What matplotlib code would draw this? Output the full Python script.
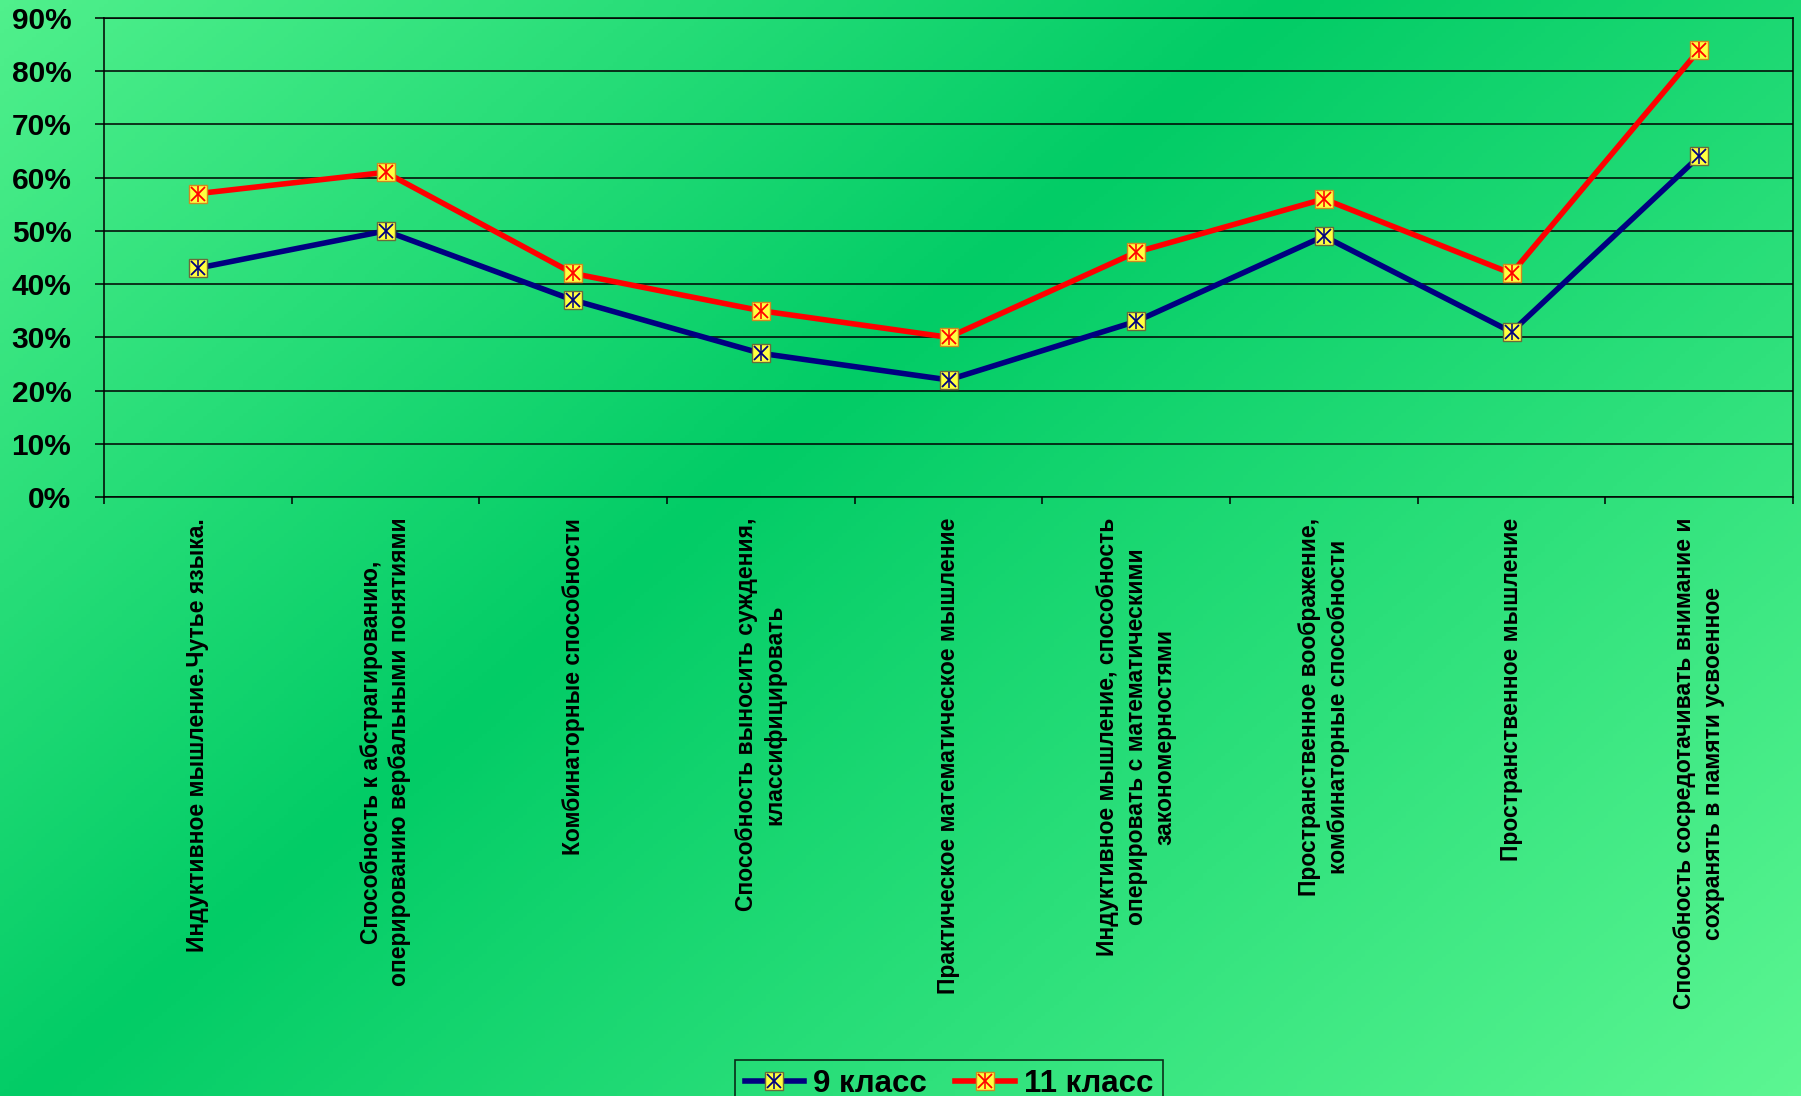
import numpy as np
import matplotlib.pyplot as plt
from matplotlib.colors import LinearSegmentedColormap
from matplotlib.lines import Line2D
from matplotlib.legend_handler import HandlerTuple

plt.rcParams["font.family"] = ["Liberation Sans", "DejaVu Sans"]
plt.rcParams["font.weight"] = "bold"

categories = [
    "Индуктивное мышление.Чутье языка.",
    "Способность к абстрагированию,\nоперированию вербальными понятиями",
    "Комбинаторные способности",
    "Способность выносить суждения,\nклассифицировать",
    "Практическое математическое мышление",
    "Индуктивное мышление, способность\nоперировать с математическими\nзакономерностями",
    "Пространственное воображение,\nкомбинаторные способности",
    "Пространственное мышление",
    "Способность сосредотачивать внимание и\nсохранять в памяти усвоенное",
]
grade9 = [0.43, 0.50, 0.37, 0.27, 0.22, 0.33, 0.49, 0.31, 0.64]
grade11 = [0.57, 0.61, 0.42, 0.35, 0.30, 0.46, 0.56, 0.42, 0.84]
series_names = ["9 класс", "11 класс"]
yticks = [0, 0.1, 0.2, 0.3, 0.4, 0.5, 0.6, 0.7, 0.8, 0.9]

fig = plt.figure(figsize=(18.01, 10.96), dpi=100)

# diagonal green gradient background (dark band from top-right to bottom-left)
bg = fig.add_axes([0, 0, 1, 1], zorder=-10)
bg_cmap = LinearSegmentedColormap.from_list(
    "bg", [(0, "#50f08c"), (0.42, "#02cc66"), (1, "#5cf692")])
gx, gy = np.meshgrid(np.linspace(0, 1, 400), np.linspace(0, 1, 300))
bg.imshow((0.83 * gx + 0.58 * gy) / 1.41, cmap=bg_cmap, aspect="auto",
          extent=(0, 1, 1, 0), vmin=0, vmax=1)
bg.axis("off")

ax = fig.add_axes([104 / 1801, 1 - 497 / 1096, 1689 / 1801, 479 / 1096])
ax.set_facecolor("none")
x = np.arange(len(categories))

colors = ["#000080", "#ff0000"]
edge_sq = ["#6b6b3a", "#d08a20"]
handles = []
for vals, c, ec, name in zip([grade9, grade11], colors, edge_sq, series_names):
    ax.plot(x, vals, "-", color=c, lw=4, zorder=3, solid_capstyle="round")
    ax.plot(x, vals, "s", ms=13, mfc="#ffff40", mec=ec, mew=1, zorder=4)
    ax.plot(x, vals, "x", ms=10, mec=c, mew=1.3, zorder=5)
    ax.plot(x, vals, "|", ms=12, mec=c, mew=1.1, zorder=5)
    h = (Line2D([], [], color=c, lw=4),
         Line2D([], [], ls="none", marker="s", ms=13, mfc="#ffff40", mec=ec, mew=1),
         Line2D([], [], ls="none", marker="x", ms=10, mec=c, mew=1.3),
         Line2D([], [], ls="none", marker="|", ms=12, mec=c, mew=1.1))
    handles.append(h)

ax.set_xlim(-0.5, len(categories) - 0.5)
ax.set_ylim(0, 0.9)
ax.set_yticks(yticks)
ax.set_yticklabels([f"{int(round(v * 100))}%" for v in yticks], fontsize=21.5, fontweight="bold")
ax.yaxis.grid(True, color="black", lw=1.1)
ax.set_axisbelow(True)
ax.tick_params(axis="y", length=6.5, width=1.1, pad=17, color="black")

ax.set_xticks(np.arange(-0.5, len(categories)), minor=True)
ax.set_xticks(x)
ax.set_xticklabels(categories, rotation=90, va="top", ha="center",
                   multialignment="center", fontsize=16.5, fontweight="bold",
                   linespacing=1.3)
ax.tick_params(axis="x", which="major", length=0, pad=15)
ax.tick_params(axis="x", which="minor", length=5, width=1.1, color="black")

for side in ["left", "bottom", "right", "top"]:
    ax.spines[side].set_color("black")
    ax.spines[side].set_linewidth(1.1)

leg = fig.legend(handles, series_names, handler_map={tuple: HandlerTuple(ndivide=1, pad=0)},
                 loc="upper center", bbox_to_anchor=(949 / 1801, 1 - 1044 / 1096),
                 ncol=2, prop={"weight": "bold", "size": 22.5},
                 frameon=True, fancybox=False, handlelength=1.9, handletextpad=0.3,
                 columnspacing=0.9, borderpad=0.3)
leg.get_frame().set_edgecolor("black")
leg.get_frame().set_facecolor("none")
leg.get_frame().set_linewidth(1.2)

fig.savefig("out.png", dpi=100)
